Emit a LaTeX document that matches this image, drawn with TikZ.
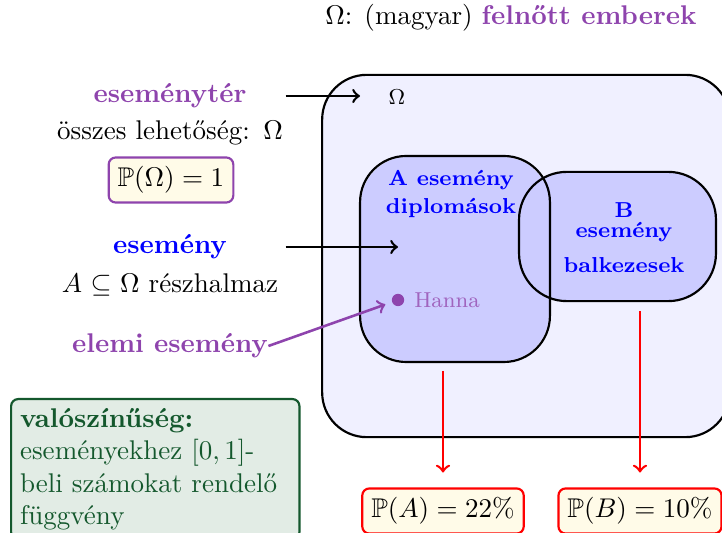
\documentclass[tikz,border=0pt]{standalone}
\usepackage{amsmath}
\usepackage{amsfonts}
\usepackage{amssymb}
\usepackage{tikz}
\usetikzlibrary{positioning}

\definecolor{lila}{RGB}{142,68,173}
\definecolor{halvlila}{RGB}{160,100,190}
\definecolor{zold}{RGB}{20,88,45}
\definecolor{zoldhat}{RGB}{226,236,229}
\definecolor{sarga}{RGB}{255,251,232}

\begin{document}
\begin{tikzpicture}[x=0.013cm, y=-0.013cm,
        halmaz/.style={draw, thick, fill=blue!20},
        halmazfelirat/.style={font=\footnotesize\bfseries, text=blue, align=center},
        balra/.style={text width=2.99cm, align=center, inner sep=0pt},
        valoszbox/.style={draw, thick, fill=sarga, rounded corners=2.6pt},
        nyil/.style={->, line width=0.95pt}]
        \useasboundingbox (0,0) rectangle (722,533);
        \node (cim) at (511,18) {$\Omega$: (magyar) \textcolor{lila}{\textbf{felnőtt emberek}}};
        \node[draw, thick, fill=blue!6, rounded corners=0.58cm, minimum width=5.3cm, minimum height=4.71cm] (omega) at (526,256) {};
        \node[font=\footnotesize] (omeganev) at (397,97) {$\Omega$};
        \node[halmaz, draw=none, rounded corners=0.6cm, minimum width=2.44cm, minimum height=2.65cm] (A) at (455,259) {};
        \node[halmaz, rounded corners=0.62cm, minimum width=2.56cm, minimum height=1.68cm] (B) at (617.5,236.5) {};
        \draw[thick, rounded corners=0.6cm] (A.south west) rectangle (A.north east);
        \node[halmazfelirat] (Anev) at (451,194) {A esemény\\[1pt]diplomások};
        \node[halmazfelirat] (Bnev) at (624,222) {B\\[-2pt]esemény};
        \node[halmazfelirat] (Bleiras) at (624,265) {balkezesek};
        \node[circle, fill=lila, inner sep=0pt, minimum size=0.16cm] (hanna) at (398,300) {};
        \node[right=0pt of hanna, font=\footnotesize, text=halvlila] (hannanev) {Hanna};

        \node[balra, font=\bfseries, text=lila] (esemenyter) at (170,96) {eseménytér};
        \node[balra] (osszes) at (170,133) {összes lehetőség: $\Omega$};
        \node[valoszbox, draw=lila] (pomega) at (171,180) {$\mathbb{P}(\Omega)=1$};
        \node[balra, font=\bfseries, text=blue] (esemeny) at (170,247) {esemény};
        \node[balra] (reszhalmaz) at (170,285) {$A\subseteq\Omega$ részhalmaz};
        \node[font=\bfseries, text=lila, inner sep=0pt] (elemi) at (170,346) {elemi esemény};

        \node[draw=zold, thick, fill=zoldhat, text=zold, rounded corners=2.6pt, text width=100pt, align=left, anchor=north west] (valosz) at (10,398)
            {\textbf{valószínűség:}\\eseményekhez $[0,1]$-\\beli számokat rendelő\\függvény};

        \node[valoszbox, draw=red] (pa) at (443,511) {$\mathbb{P}(A)=22\%$};
        \node[valoszbox, draw=red] (pb) at (640,511) {$\mathbb{P}(B)=10\%$};

        \coordinate (omegacel) at (360,96);
        \coordinate (acel) at (398,247);
        \draw[nyil] (esemenyter.east) -- (omegacel);
        \draw[nyil] (esemeny.east) -- (acel);
        \draw[nyil, lila, shorten >=2.5pt] (elemi.east) -- (hanna);
        \foreach \p/\h in {pa/A, pb/B}{
            \draw[nyil, red, shorten <=3.3pt, shorten >=5.5pt] (\p.north |- \h.south) -- (\p.north);
        }
    \end{tikzpicture}
\end{document}
